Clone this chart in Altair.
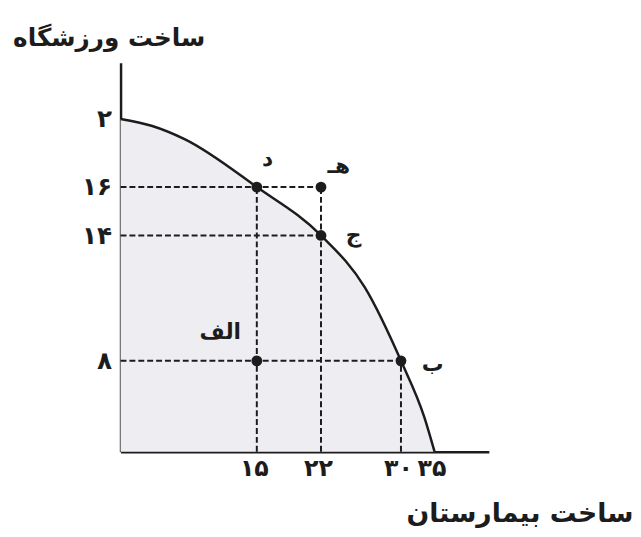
import altair as alt
import pandas as pd

# ---- data ----
curve_x = [0, 3.4, 7.1, 15, 22, 26.4, 30, 33.5, 35]
curve_y = [20, 19.6, 18.8, 16, 14, 11.5, 8, 3.0, 0]

point_names = ["الف", "ب", "ج", "د", "هـ"]
point_x = [15, 30, 22, 15, 22]
point_y = [8, 8, 14, 16, 16]

x_ticks = [15, 22, 30, 35]
x_tick_labels = ["۱۵", "۲۲", "۳۰", "۳۵"]
y_ticks = [8, 14, 16, 20]
y_tick_labels = ["۸", "۱۴", "۱۶", "۲"]

x_title = "ساخت بیمارستان"
y_title = "ساخت ورزشگاه"

# dashed guide segments (from axes to points)
guide_x = [0, 0, 0, 15, 22, 30]
guide_x2 = [22, 22, 30, 15, 22, 30]
guide_y = [16, 14, 8, 0, 0, 0]
guide_y2 = [16, 14, 8, 16, 16, 8]

# label offsets (style only)
label_dx = [-37, 32, 33, 11, 18]
label_dy = [-29, 3, 0, -28, -21]

# ---- styling ----
FONT = "DejaVu Sans"
INK = "#1c1c1c"
FILL = "#eeeef2"

curve_df = pd.DataFrame({"x": curve_x, "y": curve_y})
points_df = pd.DataFrame({"x": point_x, "y": point_y, "name": point_names})
guides_df = pd.DataFrame({"x": guide_x, "x2": guide_x2, "y": guide_y, "y2": guide_y2})

# sketch-like (piecewise) scales, as the hand-drawn reference is not to scale
x_scale = alt.Scale(domain=[0, 15, 22, 30, 35, 40], range=[0, 138, 203, 284, 318, 373],
                    nice=False, zero=False)
y_scale = alt.Scale(domain=[0, 8, 14, 16, 20, 24], range=[394, 302, 175, 126, 57, 0],
                    nice=False, zero=False)


def label_expr(values, labels):
    pairs = ", ".join(f"'{v}': '{l}'" for v, l in zip(values, labels))
    return "{" + pairs + "}[datum.label]"


x_axis = alt.Axis(
    values=x_ticks, labelExpr=label_expr(x_ticks, x_tick_labels), labelOverlap=False,
    title=x_title, titleX=404, titleY=63, titleAlign="center", titleBaseline="middle",
    titleAngle=0, titleFont=FONT, titleFontSize=27, titleFontWeight="bold", titleColor=INK,
    labelFont=FONT, labelFontSize=24, labelFontWeight="bold", labelColor=INK,
    labelOffset=-3, labelPadding=5, ticks=False, grid=False,
    domainColor=INK, domainWidth=2.5,
)
y_axis = alt.Axis(
    values=y_ticks, labelExpr=label_expr(y_ticks, y_tick_labels), labelOverlap=False,
    title=y_title, titleX=-12, titleY=-25, titleAlign="center", titleBaseline="middle",
    titleAngle=0, titleFont=FONT, titleFontSize=25, titleFontWeight="bold", titleColor=INK,
    labelFont=FONT, labelFontSize=25, labelFontWeight="bold", labelColor=INK,
    labelPadding=9, ticks=False, grid=False,
    domainColor=INK, domainWidth=2.5,
)

X = alt.X("x:Q", scale=x_scale, axis=x_axis)
Y = alt.Y("y:Q", scale=y_scale, axis=y_axis)

area = alt.Chart(curve_df).mark_area(color=FILL, interpolate="monotone").encode(x=X, y=Y)
line = alt.Chart(curve_df).mark_line(color=INK, strokeWidth=2.5, interpolate="monotone").encode(x=X, y=Y)
guides = alt.Chart(guides_df).mark_rule(color=INK, strokeWidth=2, strokeDash=[6, 3]).encode(
    x=X, x2="x2:Q", y=Y, y2="y2:Q")
dots = alt.Chart(points_df).mark_circle(color=INK, opacity=1, size=120).encode(x=X, y=Y)

labels = []
for name, dx, dy in zip(point_names, label_dx, label_dy):
    labels.append(
        alt.Chart(points_df).transform_filter(alt.datum.name == name)
        .mark_text(font=FONT, fontSize=22, fontWeight="bold", color=INK, dx=dx, dy=dy,
                   align="center", baseline="middle")
        .encode(x=X, y=Y, text="name:N")
    )

chart = alt.layer(area, guides, line, dots, *labels).properties(
    width=373, height=394,
    background="white",
    autosize=alt.AutoSizeParams(type="none"),
    padding={"left": 114, "top": 52, "right": 146, "bottom": 80},
).configure_view(stroke=None)

chart.save("out.html", embed_options={"renderer": "svg", "actions": False})
